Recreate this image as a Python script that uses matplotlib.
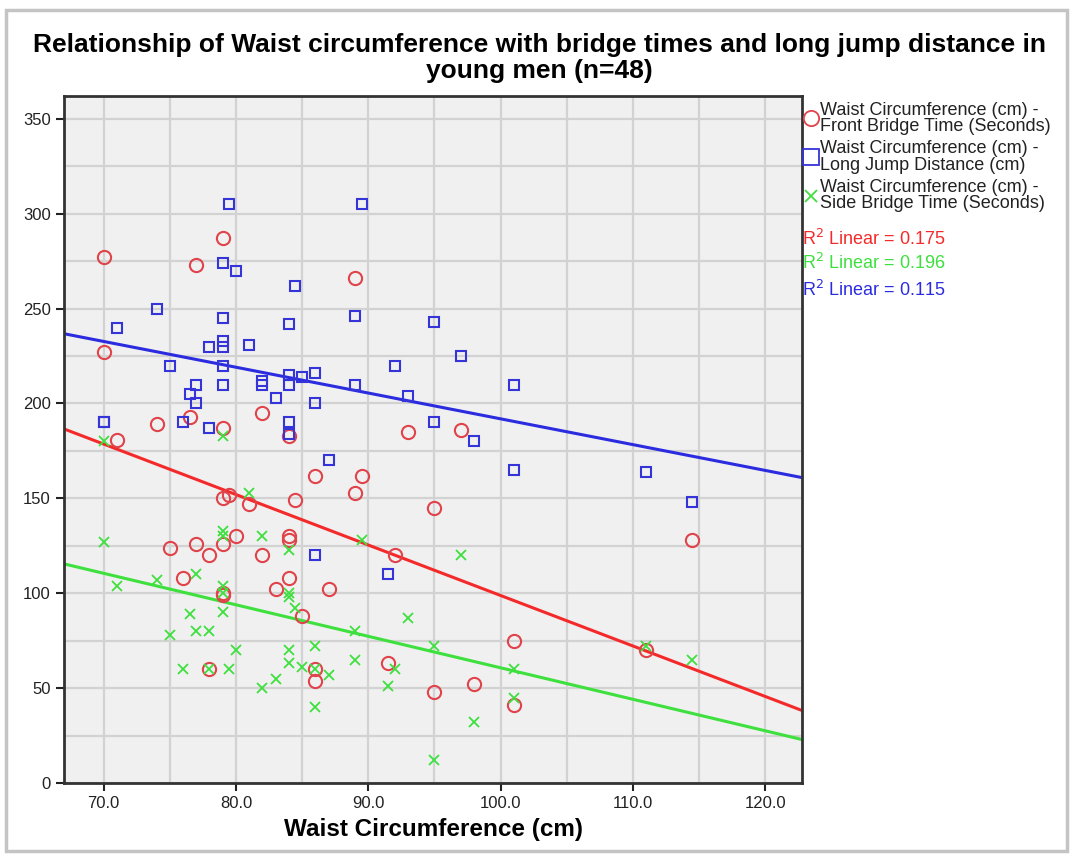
import numpy as np
import matplotlib
matplotlib.use("Agg")
import matplotlib.pyplot as plt
from matplotlib.lines import Line2D
from matplotlib.patches import Rectangle
from matplotlib.ticker import MultipleLocator, FormatStrFormatter

plt.rcParams['font.family'] = ['Liberation Sans', 'DejaVu Sans']

# front bridge time (seconds) vs waist circumference (cm)
front_x = [70, 70, 71, 74, 76.5, 77, 79, 79, 82, 84, 89, 93, 97,
           79, 79.5, 81, 84.5, 86, 89.5, 89, 95,
           75, 77, 78, 79, 80, 82, 84, 84, 76, 83, 84, 87, 92, 114.5,
           79, 79, 85, 78, 86, 86, 91.5, 95, 98, 101, 101, 111]
front_y = [277, 227, 181, 189, 193, 273, 287, 187, 195, 183, 266, 185, 186,
           150, 152, 147, 149, 162, 162, 153, 145,
           124, 126, 120, 126, 130, 120, 130, 128, 108, 102, 108, 102, 120, 128,
           100, 99, 88, 60, 60, 54, 63, 48, 52, 75, 41, 70]

# long jump distance (cm)
jump_x = [79.5, 89.5, 79, 80, 84.5, 74, 71, 79, 84, 89, 95, 81, 79, 79, 78,
          97, 75, 79, 92, 86, 84, 85, 82, 82, 84, 77, 79, 89, 101, 76.5, 83,
          93, 77, 86, 70, 70, 76, 78, 84, 84, 95, 98, 87, 101, 111, 114.5, 86,
          91.5]
jump_y = [305, 305, 274, 270, 262, 250, 240, 245, 242, 246, 243, 231, 233, 230,
          230, 225, 220, 220, 220, 216, 215, 214, 212, 210, 210, 210, 210, 210,
          210, 205, 203, 204, 200, 200, 190, 190, 190, 187, 190, 184, 190, 180,
          170, 165, 164, 148, 120, 110]

# side bridge time (seconds)
side_x = [70, 70, 71, 74, 75, 76, 76.5, 77, 77, 78, 78, 79, 79, 79, 79, 79,
          79, 79.5, 80, 81, 82, 82, 83, 84, 84, 84, 84, 84, 84.5, 85, 86, 86,
          86, 87, 89, 89, 89.5, 91.5, 92, 93, 95, 95, 97, 98, 101, 101, 111,
          114.5]
side_y = [180, 127, 104, 107, 78, 60, 89, 110, 80, 80, 60, 183, 133, 130, 104,
          100, 90, 60, 70, 153, 130, 50, 55, 123, 100, 98, 70, 63, 92, 61, 72,
          60, 40, 57, 80, 65, 128, 51, 60, 87, 72, 12, 120, 32, 60, 45, 72, 65]

series = [
    ("Waist Circumference (cm) -\nFront Bridge Time (Seconds)", front_x, front_y,
     "o", "#e0434a", "#f42a2a", 9.5),
    ("Waist Circumference (cm) -\nLong Jump Distance (cm)", jump_x, jump_y,
     "s", "#3434d8", "#2b2be0", 6.5),
    ("Waist Circumference (cm) -\nSide Bridge Time (Seconds)", side_x, side_y,
     "x", "#3ee03e", "#3ee03e", 7),
]
r2_labels = [("0.175", "#f42a2a"), ("0.196", "#3ee03e"), ("0.115", "#2b2be0")]

fig = plt.figure(figsize=(10.73, 8.58), dpi=100)
fig.patches.append(Rectangle((0.006, 0.008), 0.988, 0.98, transform=fig.transFigure,
                             fill=False, edgecolor="#c4c4c4", linewidth=2.5))
ax = fig.add_axes([0.0596, 0.0874, 0.688, 0.8006])
ax.set_facecolor("#f0f0f0")

xlo, xhi = 67.0, 122.8
xs = np.array([xlo, xhi])
handles = []
for label, x, y, mk, mc, lc, ms in series:
    if mk == "x":
        ax.plot(x, y, ls="none", marker=mk, ms=ms, mew=1.3, color=mc, zorder=3)
    else:
        ax.plot(x, y, ls="none", marker=mk, ms=ms, mew=1.5, mfc="none", mec=mc, zorder=3)
    k, b = np.polyfit(x, y, 1)
    ax.plot(xs, k * xs + b, color=lc, lw=2.2, zorder=2)
    handles.append(Line2D([], [], ls="none", marker=mk, ms=11 if mk != "x" else 8,
                          mfc="none", mec=mc, color=mc, mew=1.3, label=label))

ax.set_xlim(xlo, xhi)
ax.set_ylim(0, 362)
ax.xaxis.set_major_locator(MultipleLocator(10))
ax.xaxis.set_minor_locator(MultipleLocator(5))
ax.yaxis.set_major_locator(MultipleLocator(50))
ax.yaxis.set_minor_locator(MultipleLocator(25))
ax.xaxis.set_major_formatter(FormatStrFormatter("%.1f"))
ax.grid(which="both", color="#d2d2d2", lw=1.6, zorder=0)
ax.set_axisbelow(True)
ax.tick_params(which="major", direction="out", length=6, width=1.5,
               labelsize=12, colors="#222222")
ax.tick_params(which="minor", length=0)
for s in ax.spines.values():
    s.set_color("#333333")
    s.set_linewidth(2)

ax.set_xlabel("Waist Circumference (cm)", fontsize=17.5, fontweight="bold", labelpad=5)
fig.text(0.503, 0.903, "Relationship of Waist circumference with bridge times and long jump distance in\nyoung men (n=48)",
         ha="center", va="bottom", fontsize=19, fontweight="bold", linespacing=1.12)

leg = ax.legend(handles=handles, loc="upper left", bbox_to_anchor=(0.997, 1.0),
                frameon=False, fontsize=13, handlelength=0.6, handletextpad=0.2,
                labelspacing=0.3, borderpad=0.3, borderaxespad=0)
for t in leg.get_texts():
    t.set_color("#222222")
    t.set_linespacing(0.95)

r2_y = [0.722, 0.693, 0.662]
for (r2, col), yy in zip(r2_labels, r2_y):
    fig.text(0.747, yy, "R$^2$ Linear = " + r2, color=col, fontsize=13, va="center")

fig.savefig("out.png", dpi=100, facecolor="white")
